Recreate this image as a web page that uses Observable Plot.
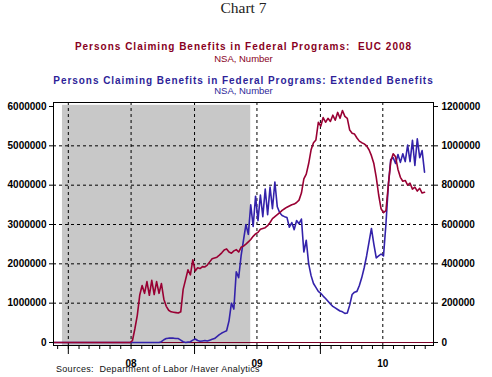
<!DOCTYPE html>
<html><head><meta charset="utf-8">
<script src="https://cdn.jsdelivr.net/npm/d3@7"></script>
<script src="https://cdn.jsdelivr.net/npm/@observablehq/plot@0.6"></script>
<style>
body{margin:0;background:#fff;}
#wrap{position:relative;width:492px;height:377px;overflow:hidden;background:#fff;}
#wrap svg{position:absolute;left:0;top:0;}
.t{position:absolute;left:0;width:487px;text-align:center;white-space:pre;}
</style></head><body>
<div id="wrap">
<div class="t" style="top:0px;font-family:'Liberation Serif',serif;font-size:15.5px;line-height:1;color:#222;">Chart 7</div>
<div class="t" style="top:41.5px;font-family:'Liberation Sans',Arial,sans-serif;font-weight:bold;font-size:10px;line-height:1;letter-spacing:1px;color:#880022;">Persons Claiming Benefits in Federal Programs:  EUC 2008</div>
<div class="t" style="top:53.5px;font-family:'Liberation Sans',Arial,sans-serif;font-size:9.5px;line-height:1;color:#880022;">NSA, Number</div>
<div class="t" style="top:75.5px;font-family:'Liberation Sans',Arial,sans-serif;font-weight:bold;font-size:10px;line-height:1;letter-spacing:0.95px;color:#2e1f99;">Persons Claiming Benefits in Federal Programs: Extended Benefits</div>
<div class="t" style="top:86px;font-family:'Liberation Sans',Arial,sans-serif;font-size:9.5px;line-height:1;color:#2e1f99;">NSA, Number</div>
<div id="chart"></div>
<div style="position:absolute;left:56px;top:364.5px;font-family:'Liberation Sans',Arial,sans-serif;font-size:9px;line-height:1;white-space:pre;color:#111;letter-spacing:0.3px;z-index:2;">Sources:  Department of Labor /Haver Analytics</div>
</div>
<script>
// Weekly data, first week ending 2007-11-17
const firstWeek = "2007-11-17";
// Persons Claiming Benefits in Federal Programs: EUC 2008 (NSA, Number) - left axis
const euc = [
0,0,0,0,0,0,0,0,0,0,0,0,0,0,0,0,0,0,0,0,0,0,0,0,0,0,0,0,0,0,0,0,0,
50000,350000,690000,1200000,1450000,1250000,1550000,1200000,1580000,1220000,
1550000,1250000,1500000,1100000,920000,820000,780000,770000,760000,750000,
780000,1350000,1600000,1850000,1720000,2100000,1820000,1900000,1880000,1930000,
1920000,1970000,2050000,2130000,2150000,2170000,2220000,2280000,2350000,2380000,
2300000,2270000,2330000,2360000,2300000,2420000,2450000,2500000,2560000,2620000,
2700000,2760000,2800000,2880000,2900000,2920000,2970000,3050000,3150000,3200000,
3250000,3300000,3360000,3400000,3440000,3470000,3500000,3520000,3560000,3620000,
3800000,4160000,4280000,4550000,4900000,5080000,5150000,5600000,5500000,5720000,
5600000,5700000,5620000,5780000,5650000,5850000,5700000,5900000,5750000,5700000,
5400000,5320000,5300000,5200000,5120000,5080000,5050000,5000000,4900000,4750000,
4550000,4200000,3750000,3400000,3300000,3350000,4000000,4600000,4800000,4720000,
4400000,4200000,4100000,4120000,4000000,4050000,3900000,3950000,3850000,3920000,
3800000,3820000
];
// Persons Claiming Benefits in Federal Programs: Extended Benefits (NSA, Number) - right axis
const eb = [
0,0,0,0,0,0,0,0,0,0,0,0,0,0,0,0,0,0,0,0,0,0,0,0,0,0,0,0,0,0,0,0,0,0,0,0,0,0,0,0,0,0,0,0,0,
4000,14000,20000,22000,22000,22000,20000,20000,12000,4000,0,2000,4000,12000,18000,
10000,6000,8000,10000,8000,12000,16000,20000,30000,40000,48000,54000,60000,110000,200000,
170000,360000,330000,440000,520000,600000,550000,700000,590000,744000,620000,750000,640000,
780000,650000,790000,680000,816000,690000,660000,646000,640000,636000,586000,610000,574000,
620000,604000,628000,460000,520000,400000,340000,300000,280000,260000,250000,236000,224000,
210000,196000,184000,176000,168000,160000,156000,148000,150000,190000,244000,256000,260000,
290000,330000,380000,440000,510000,580000,500000,430000,440000,450000,440000,600000,800000,
930000,940000,910000,956000,916000,960000,920000,1004000,920000,1028000,900000,1036000,940000,
976000,866000
];
const leftTicks = [0,1000000,2000000,3000000,4000000,5000000,6000000];
const gridValues = [1000000,2000000,3000000,4000000,5000000];
const rightScaleFactor = 5; // right axis = left axis / 5
const gridDates = ["2008-01-01","2008-07-01","2009-01-01","2009-07-01","2010-01-01","2010-07-01"];
const yearStarts = ["2008-01-01","2009-01-01","2010-01-01"];
const yearLabels = ["08","09","10"];
const yearLabelDates = ["2008-07-01","2009-07-01","2010-07-01"];
const recession = {start: "2007-12-15", end: "2009-06-13"};
const xDomain = ["2007-11-19","2010-11-25"];
const yDomain = [-76300, 6102000];

const P = s => new Date(s + "T00:00:00Z");
const w0 = P(firstWeek);
const dateOf = i => new Date(w0.getTime() + i*7*86400000);
const eucData = euc.map((v,i) => ({date: dateOf(i), v}));
const ebData = eb.map((v,i) => ({date: dateOf(i), v: v*rightScaleFactor}));
const months = d3.utcMonth.range(P("2007-12-01"), P("2010-11-02"));

const chart = Plot.plot({
  width: 492, height: 377,
  marginLeft: 53, marginRight: 59, marginTop: 102, marginBottom: 32,
  x: {type: "utc", domain: xDomain.map(P)},
  y: {domain: yDomain},
  style: {fontFamily: "'Liberation Sans', Arial, sans-serif", fontSize: "10px", fontWeight: "bold", background: "transparent", color: "#000"},
  marks: [
    Plot.rect([recession], {x1: d => P(d.start), x2: d => P(d.end), y1: yDomain[0], y2: 6030000, fill: "#c8c8c8"}),
    Plot.ruleX(gridDates.map(P), {stroke: "#000", strokeDasharray: "3,3", strokeWidth: 1}),
    Plot.ruleY(gridValues, {stroke: "#000", strokeDasharray: "3,3", strokeWidth: 1}),
    Plot.ruleY([0], {stroke: "#7a0025", strokeWidth: 1.2}),
    Plot.lineY(ebData, {x: "date", y: "v", stroke: "#3322aa", strokeWidth: 1.6, clip: true}),
    Plot.lineY(eucData, {x: "date", y: "v", stroke: "#990033", strokeWidth: 1.6, clip: true}),
    Plot.axisY({anchor: "left", ticks: leftTicks, tickSize: 4, tickPadding: 3, tickFormat: d3.format("d"), label: null}),
    Plot.axisY({anchor: "right", ticks: leftTicks, tickSize: 4, tickPadding: 4, tickFormat: d => d3.format("d")(d/rightScaleFactor), label: null}),
    Plot.axisX({ticks: months, tickSize: 4, tickFormat: () => "", label: null}),
    Plot.axisX({ticks: yearStarts.map(P), tickSize: 9, tickFormat: () => "", label: null}),
    Plot.text(yearLabels, {x: (d,i) => P(yearLabelDates[i]), text: d => d, frameAnchor: "bottom", lineAnchor: "top", dy: 14, fontWeight: "bold"}),
    Plot.frame({stroke: "#000"})
  ]
});
document.getElementById("chart").appendChild(chart);
</script>
</body></html>
